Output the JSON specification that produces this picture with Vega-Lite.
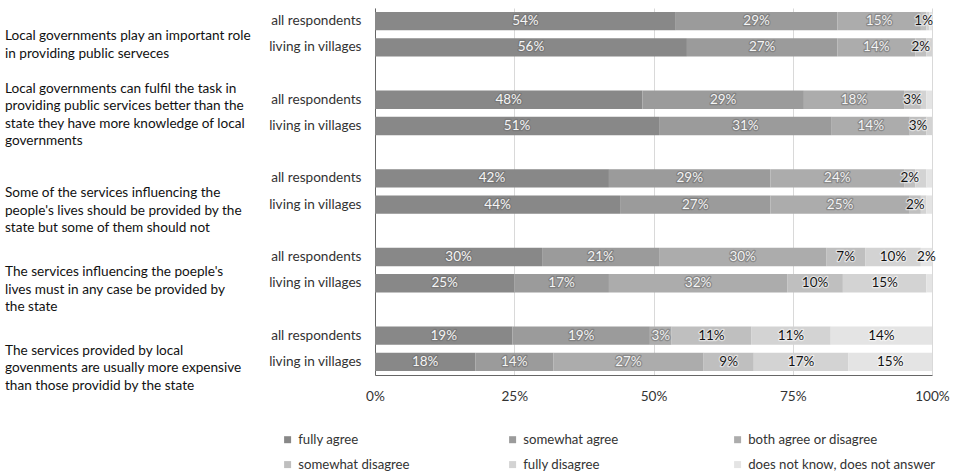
{
  "$schema": "https://vega.github.io/schema/vega-lite/v6.json",
  "autosize": {"type": "none"},
  "padding": {"left": 375, "top": 8, "right": 24, "bottom": 100},
  "width": 557,
  "height": 367,
  "background": "white",
  "config": {
    "font": "Lato",
    "view": {"stroke": null},
    "axis": {"labelFont": "Lato", "labelFontSize": 13.6, "labelColor": "#333333", "ticks": false}
  },
  "datasets": {
    "bars": [
      {"row": "1a", "cat": "fully agree", "o": 1, "v": 0.54, "label": "54%"},
      {"row": "1a", "cat": "somewhat agree", "o": 2, "v": 0.29, "label": "29%"},
      {"row": "1a", "cat": "both agree or disagree", "o": 3, "v": 0.15, "label": "15%"},
      {"row": "1a", "cat": "somewhat disagree", "o": 4, "v": 0.01, "label": "1%"},
      {"row": "1a", "cat": "fully disagree", "o": 5, "v": 0.005, "label": ""},
      {"row": "1a", "cat": "does not know, does not answer", "o": 6, "v": 0.005, "label": ""},
      {"row": "1v", "cat": "fully agree", "o": 1, "v": 0.56, "label": "56%"},
      {"row": "1v", "cat": "somewhat agree", "o": 2, "v": 0.27, "label": "27%"},
      {"row": "1v", "cat": "both agree or disagree", "o": 3, "v": 0.14, "label": "14%"},
      {"row": "1v", "cat": "somewhat disagree", "o": 4, "v": 0.02, "label": "2%"},
      {"row": "1v", "cat": "fully disagree", "o": 5, "v": 0.01, "label": ""},
      {"row": "1v", "cat": "does not know, does not answer", "o": 6, "v": 0.0, "label": ""},
      {"row": "2a", "cat": "fully agree", "o": 1, "v": 0.48, "label": "48%"},
      {"row": "2a", "cat": "somewhat agree", "o": 2, "v": 0.29, "label": "29%"},
      {"row": "2a", "cat": "both agree or disagree", "o": 3, "v": 0.18, "label": "18%"},
      {"row": "2a", "cat": "somewhat disagree", "o": 4, "v": 0.03, "label": "3%"},
      {"row": "2a", "cat": "fully disagree", "o": 5, "v": 0.01, "label": ""},
      {"row": "2a", "cat": "does not know, does not answer", "o": 6, "v": 0.01, "label": ""},
      {"row": "2v", "cat": "fully agree", "o": 1, "v": 0.51, "label": "51%"},
      {"row": "2v", "cat": "somewhat agree", "o": 2, "v": 0.31, "label": "31%"},
      {"row": "2v", "cat": "both agree or disagree", "o": 3, "v": 0.14, "label": "14%"},
      {"row": "2v", "cat": "somewhat disagree", "o": 4, "v": 0.03, "label": "3%"},
      {"row": "2v", "cat": "fully disagree", "o": 5, "v": 0.01, "label": ""},
      {"row": "2v", "cat": "does not know, does not answer", "o": 6, "v": 0.0, "label": ""},
      {"row": "3a", "cat": "fully agree", "o": 1, "v": 0.42, "label": "42%"},
      {"row": "3a", "cat": "somewhat agree", "o": 2, "v": 0.29, "label": "29%"},
      {"row": "3a", "cat": "both agree or disagree", "o": 3, "v": 0.24, "label": "24%"},
      {"row": "3a", "cat": "somewhat disagree", "o": 4, "v": 0.02, "label": "2%"},
      {"row": "3a", "cat": "fully disagree", "o": 5, "v": 0.02, "label": ""},
      {"row": "3a", "cat": "does not know, does not answer", "o": 6, "v": 0.01, "label": ""},
      {"row": "3v", "cat": "fully agree", "o": 1, "v": 0.44, "label": "44%"},
      {"row": "3v", "cat": "somewhat agree", "o": 2, "v": 0.27, "label": "27%"},
      {"row": "3v", "cat": "both agree or disagree", "o": 3, "v": 0.25, "label": "25%"},
      {"row": "3v", "cat": "somewhat disagree", "o": 4, "v": 0.02, "label": "2%"},
      {"row": "3v", "cat": "fully disagree", "o": 5, "v": 0.01, "label": ""},
      {"row": "3v", "cat": "does not know, does not answer", "o": 6, "v": 0.01, "label": ""},
      {"row": "4a", "cat": "fully agree", "o": 1, "v": 0.30, "label": "30%"},
      {"row": "4a", "cat": "somewhat agree", "o": 2, "v": 0.21, "label": "21%"},
      {"row": "4a", "cat": "both agree or disagree", "o": 3, "v": 0.30, "label": "30%"},
      {"row": "4a", "cat": "somewhat disagree", "o": 4, "v": 0.07, "label": "7%"},
      {"row": "4a", "cat": "fully disagree", "o": 5, "v": 0.10, "label": "10%"},
      {"row": "4a", "cat": "does not know, does not answer", "o": 6, "v": 0.02, "label": "2%"},
      {"row": "4v", "cat": "fully agree", "o": 1, "v": 0.25, "label": "25%"},
      {"row": "4v", "cat": "somewhat agree", "o": 2, "v": 0.17, "label": "17%"},
      {"row": "4v", "cat": "both agree or disagree", "o": 3, "v": 0.32, "label": "32%"},
      {"row": "4v", "cat": "somewhat disagree", "o": 4, "v": 0.10, "label": "10%"},
      {"row": "4v", "cat": "fully disagree", "o": 5, "v": 0.15, "label": "15%"},
      {"row": "4v", "cat": "does not know, does not answer", "o": 6, "v": 0.01, "label": ""},
      {"row": "5a", "cat": "fully agree", "o": 1, "v": 0.19, "label": "19%"},
      {"row": "5a", "cat": "somewhat agree", "o": 2, "v": 0.19, "label": "19%"},
      {"row": "5a", "cat": "both agree or disagree", "o": 3, "v": 0.03, "label": "3%"},
      {"row": "5a", "cat": "somewhat disagree", "o": 4, "v": 0.11, "label": "11%"},
      {"row": "5a", "cat": "fully disagree", "o": 5, "v": 0.11, "label": "11%"},
      {"row": "5a", "cat": "does not know, does not answer", "o": 6, "v": 0.14, "label": "14%"},
      {"row": "5v", "cat": "fully agree", "o": 1, "v": 0.18, "label": "18%"},
      {"row": "5v", "cat": "somewhat agree", "o": 2, "v": 0.14, "label": "14%"},
      {"row": "5v", "cat": "both agree or disagree", "o": 3, "v": 0.27, "label": "27%"},
      {"row": "5v", "cat": "somewhat disagree", "o": 4, "v": 0.09, "label": "9%"},
      {"row": "5v", "cat": "fully disagree", "o": 5, "v": 0.17, "label": "17%"},
      {"row": "5v", "cat": "does not know, does not answer", "o": 6, "v": 0.15, "label": "15%"}
    ],
    "questions": [
      {"row": "1a", "q": "Local governments play an important role\nin providing public serveces"},
      {"row": "g1", "q": "Local governments can fulfil the task in\nproviding public services better than the\nstate they have more knowledge of local\ngovernments"},
      {"row": "3a", "q": "Some of the services influencing the\npeople's lives should be provided by the\nstate but some of them should not"},
      {"row": "4a", "q": " The services influencing the poeple's\n lives must in any case be provided by\n the state"},
      {"row": "5a", "q": "The services provided by local\ngovenments are usually more expensive\nthan those providid by the state"}
    ]
  },
  "encoding": {
    "y": {
      "field": "row",
      "type": "nominal",
      "title": null,
      "scale": {
        "domain": ["1a", "1v", "g1", "2a", "2v", "g2", "3a", "3v", "g3", "4a", "4v", "g4", "5a", "5v"],
        "paddingInner": 0.3,
        "paddingOuter": 0.15
      },
      "axis": {
        "domain": true,
        "domainColor": "#666666",
        "labelPadding": 14,
        "labelExpr": "indexof(datum.value, 'a') > 0 ? 'all respondents' : (indexof(datum.value, 'v') > 0 ? 'living in villages' : '')"
      }
    }
  },
  "layer": [
    {
      "data": {"name": "bars"},
      "mark": {"type": "bar"},
      "encoding": {
        "x": {
          "field": "v",
          "type": "quantitative",
          "stack": "normalize",
          "title": null,
          "scale": {"domain": [0, 1], "nice": false},
          "axis": {
            "values": [0, 0.25, 0.5, 0.75, 1],
            "format": ".0%",
            "grid": true,
            "gridColor": "#d9d9d9",
            "domainColor": "#666666",
            "labelPadding": 14,
            "labelFlush": false
          }
        },
        "color": {
          "field": "cat",
          "type": "nominal",
          "scale": {
            "domain": ["fully agree", "somewhat agree", "both agree or disagree", "somewhat disagree", "fully disagree", "does not know, does not answer"],
            "range": ["#888888", "#9b9b9b", "#acacac", "#bfbfbf", "#d3d3d3", "#e4e4e4"]
          },
          "legend": {
            "title": null,
            "orient": "none",
            "legendX": -94,
            "legendY": 425,
            "direction": "horizontal",
            "columns": 3,
            "gridAlign": "all",
            "columnPadding": 20,
            "rowPadding": 11,
            "padding": 0,
            "symbolType": "square",
            "symbolSize": 49,
            "symbolStrokeWidth": 0,
            "labelFont": "Lato",
            "labelFontSize": 13.2,
            "labelColor": "#333333",
            "labelOffset": 4,
            "labelLimit": 300
          }
        },
        "order": {"field": "o", "type": "quantitative"}
      }
    },
    {
      "data": {"name": "bars"},
      "mark": {"type": "text", "font": "Lato", "fontSize": 13.5, "strokeWidth": 2.5, "strokeOpacity": 0.5, "strokeJoin": "round"},
      "encoding": {
        "x": {"field": "v", "type": "quantitative", "stack": "normalize", "bandPosition": 0.5},
        "order": {"field": "o", "type": "quantitative"},
        "text": {"field": "label", "type": "nominal"},
        "stroke": {
          "condition": {"test": "datum.o <= 3", "value": "#6a6a6a"},
          "value": "#ffffff"
        },
        "fill": {
          "condition": {"test": "datum.o <= 3", "value": "#6a6a6a"},
          "value": "#ffffff"
        }
      }
    },
    {
      "data": {"name": "bars"},
      "mark": {"type": "text", "font": "Lato", "fontSize": 13.5},
      "encoding": {
        "x": {"field": "v", "type": "quantitative", "stack": "normalize", "bandPosition": 0.5},
        "order": {"field": "o", "type": "quantitative"},
        "text": {"field": "label", "type": "nominal"},
        "fill": {
          "condition": {"test": "datum.o <= 3", "value": "#f6f6f6"},
          "value": "#111111"
        }
      }
    },
    {
      "data": {"name": "questions"},
      "mark": {"type": "text", "font": "Lato", "fontSize": 13.6, "align": "left", "baseline": "middle", "lineBreak": "\n", "lineHeight": 17.5, "dy": 15, "color": "#111111"},
      "encoding": {
        "x": {"datum": -0.6643, "type": "quantitative"},
        "text": {"field": "q", "type": "nominal"}
      }
    }
  ]
}
